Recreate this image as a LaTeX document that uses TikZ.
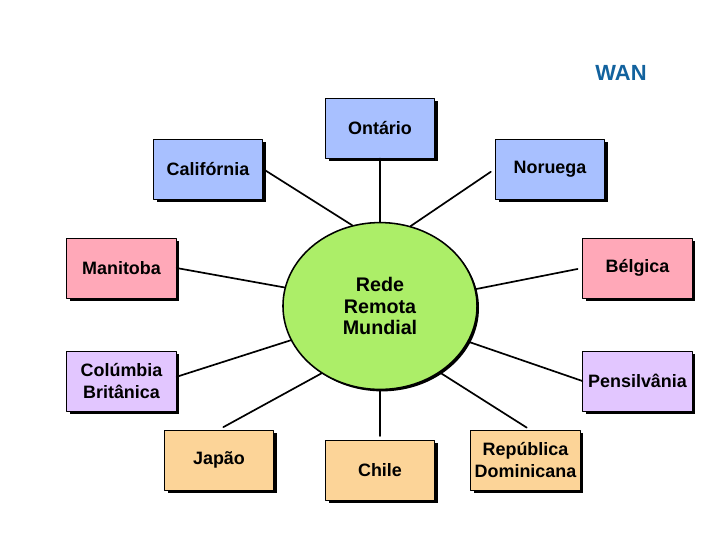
\documentclass[tikz,border=0pt]{standalone}
\usepackage{fontspec}
\setmainfont{Liberation Sans}
\usetikzlibrary{shapes.geometric,shadows}

\definecolor{wanblue}{RGB}{18,98,158}
\definecolor{boxblue}{RGB}{168,192,255}
\definecolor{boxpink}{RGB}{255,168,184}
\definecolor{boxlilac}{RGB}{226,198,255}
\definecolor{boxorange}{RGB}{252,212,152}
\definecolor{hubgreen}{RGB}{172,238,104}

\tikzset{
    site/.style={draw=black,line width=0.7pt,align=center,
        minimum width=2.73cm,minimum height=1.5cm,inner sep=1pt,
        font=\fontsize{12.75}{15}\selectfont\bfseries,
        drop shadow={fill=black,opacity=1,shadow xshift=2.3pt,shadow yshift=-2.3pt}},
    hubnode/.style={ellipse,draw=black,line width=1.1pt,fill=hubgreen,align=center,
        minimum width=4.85cm,minimum height=4.17cm,inner sep=0pt,
        font=\fontsize{14}{15}\selectfont\bfseries,
        drop shadow={fill=black,opacity=1,shadow xshift=1.4pt,shadow yshift=-1.4pt}},
    link/.style={line width=1.2pt}
}

\begin{document}
\begin{tikzpicture}[x=0.025cm,y=-0.025cm,line cap=round,line join=round]
        \useasboundingbox (0,0) rectangle (720,540);

        \node[text=wanblue,font=\fontsize{15.6}{18}\selectfont\bfseries]
            (wan) at (621,73) {WAN};

        % Rede central
        \node[hubnode] (hub) at (380,306) {Rede\\Remota\\Mundial};

        %----------------------------------------------------------
        % Locais ligados à rede
        \node[site,fill=boxblue] (ontario) at (380,128) {Ontário};
        \node[site,fill=boxblue] (calif) at (208,169) {Califórnia};
        \node[site,fill=boxblue] (noruega) at (550,169) {Noruega};

        \node[site,fill=boxpink] (manitoba) at (121.5,268) {Manitoba};
        \node[site,fill=boxpink] (belgica) at (637.5,268) {Bélgica};

        \node[site,fill=boxlilac] (columbia) at (121.5,381) {Colúmbia\\Britânica};
        \node[site,fill=boxlilac] (pensil) at (637.5,381) {Pensilvânia};

        \node[site,fill=boxorange] (japao) at (219,460) {Japão};
        \node[site,fill=boxorange] (chile) at (380,470) {Chile};
        \node[site,fill=boxorange] (repdom) at (525.5,460) {República\\Dominicana};

        %----------------------------------------------------------
        % Ligações
        \draw[link] (hub.90) -- (ontario.south);
        \draw[link] (hub.109) -- (calif.east);
        \draw[link,shorten >=3.5pt] (hub.69) -- (noruega.west);
        \draw[link] (hub.169) -- (manitoba.east);
        \draw[link,shorten >=3.5pt] (hub.10.6) -- (belgica.west);
        \draw[link] (hub.201) -- ([yshift=3pt]columbia.east);
        \draw[link] (hub.338) -- (pensil.west);
        \draw[link,shorten >=3.5pt] (hub.229) -- (japao.north);
        \draw[link,shorten >=2.5pt] (hub.270) -- (chile.north);
        \draw[link,shorten >=2.5pt] (hub.312) -- ([xshift=3pt]repdom.north);
\end{tikzpicture}
\end{document}
